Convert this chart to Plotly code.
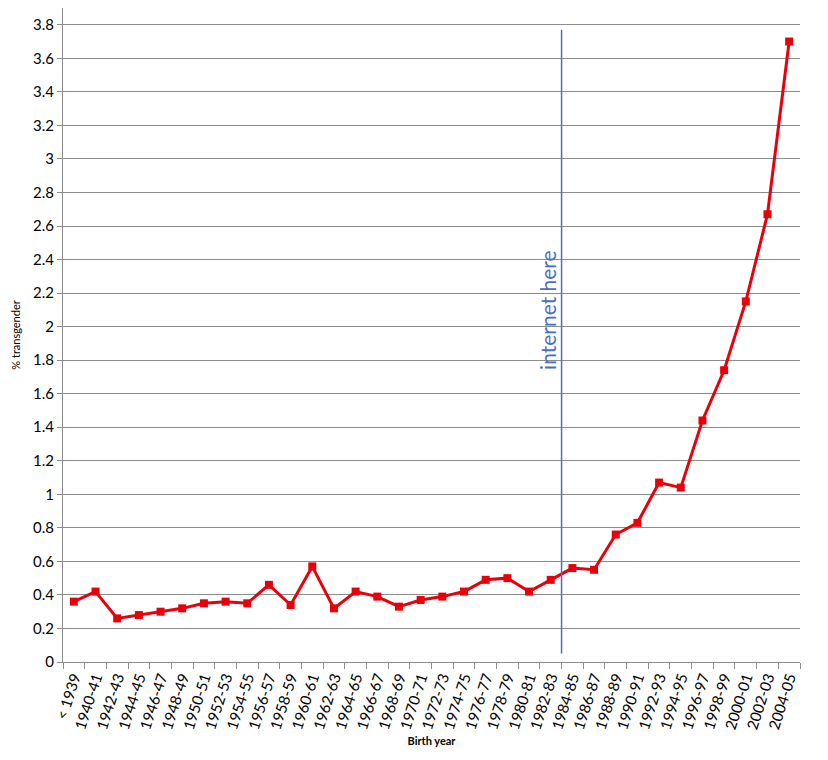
import plotly.graph_objects as go

birth_years = ["< 1939", "1940-41", "1942-43", "1944-45", "1946-47", "1948-49",
               "1950-51", "1952-53", "1954-55", "1956-57", "1958-59", "1960-61",
               "1962-63", "1964-65", "1966-67", "1968-69", "1970-71", "1972-73",
               "1974-75", "1976-77", "1978-79", "1980-81", "1982-83", "1984-85",
               "1986-87", "1988-89", "1990-91", "1992-93", "1994-95", "1996-97",
               "1998-99", "2000-01", "2002-03", "2004-05"]
pct_trans = [0.36, 0.42, 0.26, 0.28, 0.30, 0.32, 0.35, 0.36, 0.35, 0.46, 0.34,
             0.57, 0.32, 0.42, 0.39, 0.33, 0.37, 0.39, 0.42, 0.49, 0.50, 0.42,
             0.49, 0.56, 0.55, 0.76, 0.83, 1.07, 1.04, 1.44, 1.74, 2.15, 2.67, 3.70]
y_ticks = [round(0.2 * i, 1) for i in range(20)]
y_tick_text = ["0", "0.2", "0.4", "0.6", "0.8", "1", "1.2", "1.4", "1.6", "1.8",
               "2", "2.2", "2.4", "2.6", "2.8", "3", "3.2", "3.4", "3.6", "3.8"]
internet_at = 22.5  # boundary between 1982-83 and 1984-85

font = "Lato, 'Open Sans', sans-serif"
blue = "#4a6ec2"
grey = "#8c8c8c"

fig = go.Figure()
fig.add_trace(go.Scatter(
    x=birth_years, y=pct_trans, mode="lines+markers",
    line=dict(color="#e8000b", width=3),
    marker=dict(symbol="square", size=8, color="#e8000b"),
    showlegend=False,
))

fig.add_shape(type="line", x0=internet_at, x1=internet_at, y0=0.05, y1=3.77,
              line=dict(color=blue, width=1.5))
fig.add_annotation(x=internet_at, y=2.1, text="internet here", textangle=-90,
                   showarrow=False, xanchor="right", xshift=1,
                   font=dict(family=font, size=21, color=blue))

# page body adds an 8px margin, so the figure is a bit smaller than the window
fig.update_layout(
    width=812, height=744,
    margin=dict(l=55, r=20, t=0, b=90),
    paper_bgcolor="white", plot_bgcolor="white",
    font=dict(family=font, color="black"),
)
fig.update_xaxes(
    type="category", categoryorder="array", categoryarray=birth_years,
    range=[-0.5, len(birth_years) - 0.5], automargin=False,
    tickson="boundaries", ticks="outside", ticklen=6, tickcolor=grey,
    tickangle=-72, tickfont=dict(size=15),
    showgrid=False, zeroline=False,
    showline=True, linecolor=grey, linewidth=1,
    title=dict(text="<b>Birth year</b>", font=dict(size=11), standoff=6),
)
fig.update_yaxes(
    range=[0, 3.9], tickvals=y_ticks, ticktext=y_tick_text, automargin=False,
    tickfont=dict(size=15), ticks="outside", ticklen=5, tickcolor=grey,
    showgrid=True, gridcolor=grey, gridwidth=1, zeroline=False,
    showline=True, linecolor=grey, linewidth=1,
    title=dict(text="% transgender", font=dict(size=11), standoff=10),
)

fig.write_html("out.html")
